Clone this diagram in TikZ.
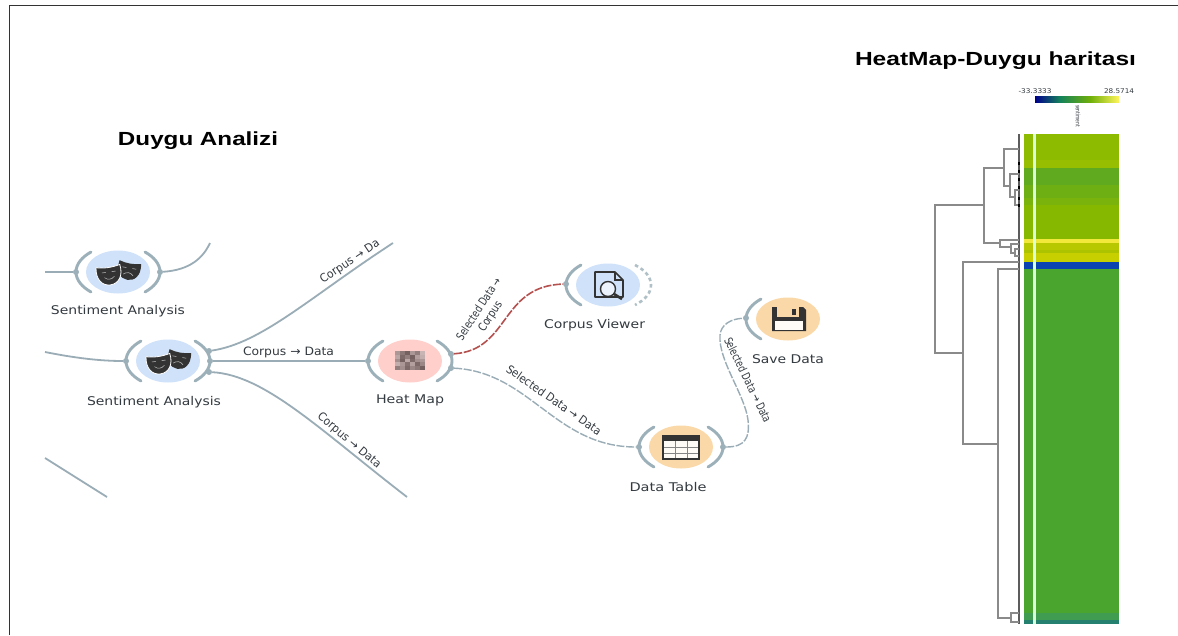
\documentclass[tikz,border=0pt]{standalone}
\usepackage{graphicx}
\usepackage{fontspec}
\setmainfont{DejaVu Sans}
\newfontfamily\titlefont{Liberation Sans}
\usetikzlibrary{shapes.geometric}
\definecolor{linec}{HTML}{9AADB6}
\definecolor{brk}{HTML}{9CB0B9}
\definecolor{txt}{HTML}{333A40}
\definecolor{redl}{HTML}{B4504E}
\definecolor{bluec}{HTML}{CFE2FA}
\definecolor{pinkc}{HTML}{FFCFCB}
\definecolor{orc}{HTML}{FBD8A8}
\definecolor{ico}{HTML}{333333}
\definecolor{den}{HTML}{8A8A8A}
\newcommand{\fitw}[2]{\resizebox{#1pt}{\height}{#2}}
\tikzset{
  x=1pt,y=-1pt,
  wcirc/.style={ellipse,minimum width=64pt,minimum height=43pt,inner sep=0pt,draw=none},
  wlabel/.style={text=txt,font=\fontsize{12}{14}\selectfont,inner sep=0pt},
  elabel/.style={text=txt,font=\fontsize{11.5}{13.5}\selectfont,inner sep=0pt,align=center},
  ttl/.style={text=black,font=\titlefont\bfseries\fontsize{19}{21}\selectfont,inner sep=0pt},
  port/.style={circle,fill=brk,minimum size=6pt,inner sep=0pt},
  wire/.style={draw=linec,line width=1.8pt},
  dwire/.style={draw=linec,line width=1.4pt,dash pattern=on 8pt off 1.6pt},
  rwire/.style={draw=redl,line width=1.6pt,dash pattern=on 8pt off 1.6pt},
  bracket/.style={draw=brk,line width=2.9pt,line cap=round},
  dend/.style={draw=den,line width=1.2pt},
  lbr/.pic={\draw[bracket] (-27,-20) .. controls (-36,-15) and (-42,-8) .. (-42,0) .. controls (-42,8) and (-36,15) .. (-27,20);},
  rbr/.pic={\draw[bracket] (27,-20) .. controls (36,-15) and (42,-8) .. (42,0) .. controls (42,8) and (36,15) .. (27,20);},
  masks/.pic={
    \begin{scope}[shift={(11,-2)},rotate=-10]
      \fill[ico] (-11,-8) .. controls (-4,-6) and (4,-6) .. (11,-8) .. controls (13,4) and (7,10) .. (0,10) .. controls (-7,10) and (-13,4) .. cycle;
      \draw[white!70!ico,line width=.5pt] (-5,5) .. controls (-2,2) and (2,2) .. (5,5);
      \draw[white!70!ico,line width=.5pt] (-7,-2) -- (-3,-2) (3,-2) -- (7,-2);
    \end{scope}
    \begin{scope}[shift={(-9,2)},rotate=8]
      \fill[ico,draw=white,line width=.8pt] (-12,-8) .. controls (-4,-6) and (4,-6) .. (12,-8) .. controls (14,4) and (8,11) .. (0,11) .. controls (-8,11) and (-14,4) .. cycle;
      \draw[white!70!ico,line width=.5pt] (-5,3) .. controls (-2,6) and (2,6) .. (5,3);
      \draw[white!70!ico,line width=.5pt] (-7,-2) -- (-3,-2) (3,-2) -- (7,-2);
    \end{scope}
  },
}
\begin{document}
\begin{tikzpicture}
\useasboundingbox (0,0) rectangle (1178,635);
\fill[white] (0,0) rectangle (1178,635);
% frame
\draw[draw=ico,line width=1pt] (9.5,635) -- (9.5,5.5) -- (1178,5.5);
% titles
\node[ttl] (t1) at (198,141) {\fitw{160}{Duygu Analizi}};
\node[ttl] (t2) at (995.5,61) {\fitw{281}{HeatMap-Duygu haritası}};

% widgets
\node[wcirc,fill=bluec] (s1) at (118,272) {};
\node[wcirc,fill=bluec] (s2) at (168,361) {};
\node[wcirc,fill=pinkc] (hm) at (410,361) {};
\node[wcirc,fill=bluec] (cv) at (608,285) {};
\node[wcirc,fill=orc] (dt) at (681,447) {};
\node[wcirc,fill=orc] (sd) at (788,319) {};

\pic at (118,272) {lbr}; \pic at (118,272) {rbr};
\pic at (168,361) {lbr}; \pic at (168,361) {rbr};
\pic at (410,361) {lbr}; \pic at (410,361) {rbr};
\pic at (608,285) {lbr};
\pic at (681,447) {lbr}; \pic at (681,447) {rbr};
\pic at (788,319) {lbr};
\draw[draw=brk!80!white,line width=2.6pt,dash pattern=on 3.5pt off 3pt] (635,265) .. controls (645,270) and (651,277) .. (651,285) .. controls (651,293) and (645,300) .. (635,305);

% ports
\node[port] (s1l) at (76,272) {};
\node[port] (s1r) at (160,272) {};
\node[port] (s2l) at (126,361) {};
\node[port] (s2a) at (209,351) {};
\node[port] (s2b) at (210,361) {};
\node[port] (s2c) at (209,372) {};
\node[port] (hml) at (368,361) {};
\node[port] (hma) at (451,354) {};
\node[port] (hmb) at (451,368) {};
\node[port] (cvl) at (566,284) {};
\node[port] (dtl) at (639,447) {};
\node[port] (dtr) at (723,447) {};
\node[port] (sdl) at (746,318) {};

% free ends
\coordinate (e1) at (45,272);
\coordinate (e2) at (210,243);
\coordinate (e3) at (45,352);
\coordinate (e4) at (393,243);
\coordinate (e5) at (407,497);
\coordinate (e6) at (45,458);
\coordinate (e7) at (107,497);

% connectors
\draw[wire] (e1) -- (s1l);
\draw[wire] (s1r) .. controls (190,270) and (203,258) .. (e2);
\draw[wire] (e3) .. controls (75,358) and (100,361) .. (s2l);
\draw[wire] (s2a) .. controls (262,343) and (310,297) .. (e4);
\draw[wire] (s2b) -- (hml);
\draw[wire] (s2c) .. controls (265,375) and (320,430) .. (e5);
\draw[wire] (e6) -- (e7);
\draw[rwire] (hma) .. controls (510,350) and (500,286) .. (cvl);
\draw[dwire] (hmb) .. controls (530,372) and (555,447) .. (dtl);
\draw[dwire] (dtr) .. controls (745,447) and (750,438) .. (748,420) .. controls (745,395) and (718,360) .. (720,335) .. controls (721,325) and (730,319) .. (sdl);

% widget labels
\node[wlabel] (ls1) at (118,311) {\fitw{134}{Sentiment Analysis}};
\node[wlabel] (ls2) at (154,402) {\fitw{134}{Sentiment Analysis}};
\node[wlabel] (lhm) at (410,400) {\fitw{68}{Heat Map}};
\node[wlabel] (lcv) at (594.5,325) {\fitw{101}{Corpus Viewer}};
\node[wlabel] (ldt) at (668,487) {\fitw{77}{Data Table}};
\node[wlabel] (lsd) at (788,359) {\fitw{72}{Save Data}};

% connector labels
\node[elabel] (c1) at (288.5,352) {\fitw{91}{Corpus → Data}};
\node[elabel,rotate=34] (c2) at (350,262) {\fitw{69}{Corpus → Da}};
\node[elabel,rotate=-40] (c3) at (349,441) {\fitw{79}{Corpus → Data}};
\node[elabel,rotate=57] (c4) at (485,313) {\fitw{72}{Selected Data →}\\\fitw{34}{Corpus}};
\node[elabel,rotate=-35] (c5) at (554,400) {\fitw{113}{Selected Data → Data}};
\node[elabel,rotate=-64] (c6) at (748,380) {\fitw{93}{Selected Data → Data}};

% masks
\pic at (118,272) {masks};
\pic at (168,361) {masks};

% heat map icon
\foreach \col/\row/\g in {
0/0/55,1/0/75,2/0/90,3/0/55,4/0/70,5/0/35,
0/1/45,1/1/85,2/1/70,3/1/90,4/1/50,5/1/40,
0/2/60,1/2/90,2/2/45,3/2/85,4/2/60,5/2/55,
0/3/40,1/3/55,2/3/80,3/3/50,4/3/85,5/3/65,
0/4/70,1/4/60,2/4/85,3/4/65,4/4/75,5/4/90}
  \fill[black!\g!white,opacity=.6] (395+5*\col,351+3.8*\row) rectangle +(5,3.8);

% corpus viewer icon
\begin{scope}[shift={(608,285)}]
  \draw[ico,line width=1.6pt,line join=round,fill=bluec] (-13,-13) -- (7,-13) -- (15,-5) -- (15,12) -- (-13,12) -- cycle;
  \draw[ico,line width=1.2pt] (7,-13) -- (7,-5) -- (15,-5);
  \draw[ico,line width=1.4pt,fill=bluec!40!white] (0,4) circle (7.5);
  \draw[ico,line width=2.6pt] (6,9) -- (14,14);
\end{scope}

% data table icon
\begin{scope}[shift={(681,447)}]
  \fill[white!90!orc] (-18,-6) rectangle (18,12);
  \fill[ico] (-18,-11) rectangle (18,-6);
  \draw[ico!60!white,line width=.7pt] (-18,0) -- (18,0) (-18,6) -- (18,6) (-6,-6) -- (-6,12) (6,-6) -- (6,12);
  \draw[ico,line width=1.1pt] (-18,-11) rectangle (18,12);
\end{scope}

% save data icon
\begin{scope}[shift={(788,319)}]
  \fill[ico] (-16,-12) -- (15,-12) -- (18,-9) -- (18,12) -- (-16,12) -- cycle;
  \fill[orc] (-11,-12) rectangle (11,-2);
  \fill[ico] (4,-10) rectangle (8,-4);
  \fill[white!92!orc] (-13,2) rectangle (15,11);
\end{scope}

% legend
\node[font=\fontsize{6.5}{7}\selectfont,text=txt,inner sep=0pt] (lg1) at (1035,91) {\fitw{33}{-33.3333}};
\node[font=\fontsize{6.5}{7}\selectfont,text=txt,inner sep=0pt] (lg2) at (1119,91) {\fitw{30}{28.5714}};
\node[font=\fontsize{6}{7}\selectfont,text=txt,inner sep=0pt,rotate=-90] (lg3) at (1078,116) {\fitw{22}{sentiment}};
\shade[left color={rgb,255:red,0;green,0;blue,140},right color={rgb,255:red,20;green,130;blue,90}] (1035,96) rectangle (1060,102);
\shade[left color={rgb,255:red,20;green,130;blue,90},right color={rgb,255:red,110;green,175;blue,10}] (1060,96) rectangle (1090,102);
\shade[left color={rgb,255:red,110;green,175;blue,10},right color={rgb,255:red,255;green,245;blue,90}] (1090,96) rectangle (1119,102);

% heat map bands
\foreach \ya/\yb/\c in {
134/160/8DBB00,160/168/97BE00,168/185/5FAA1E,185/198/6EAF14,198/205/7AB30C,205/239/86B800,
239/243/F2E83C,243/250/B8C800,250/253/ACC400,253/262/C8CF00,262/269/0B43B0,269/613/4AA52E,
613/620/3F9C50,620/624/268070}{
  \definecolor{bandc}{HTML}{\c}
  \fill[bandc] (1024,\ya) rectangle (1119,\yb);
}
\fill[white!85!green] (1033,134) rectangle (1036,624);

% dendrogram
\draw[draw=ico!80!white,line width=1.8pt] (1019,134) -- (1019,624);
\draw[dend] (984,205) -- (935,205) -- (935,353) -- (963,353);
\draw[dend] (1004,168) -- (984,168) -- (984,243) -- (1000,243);
\draw[dend] (1019,149) -- (1004,149) -- (1004,186) -- (1010,186);
\draw[dend] (1019,174) -- (1010,174) -- (1010,197) -- (1015,197);
\draw[dend] (1019,190) -- (1015,190) -- (1015,205) -- (1019,205);
\draw[dend] (1019,240) -- (1000,240) -- (1000,247) -- (1011,247);
\draw[dend] (1019,244) -- (1011,244) -- (1011,253) -- (1015,253);
\draw[dend] (1019,249) -- (1015,249) -- (1015,256) -- (1019,256);
\draw[dend] (1019,262) -- (963,262) -- (963,444) -- (998,444);
\draw[dend] (1019,269) -- (998,269) -- (998,618) -- (1011,618);
\draw[dend] (1019,613) -- (1011,613) -- (1011,622) -- (1019,622);
\foreach \yy in {162,170,178,186,197,204}
  \fill[black] (1017.5,\yy) rectangle (1020,\yy+3);
\end{tikzpicture}
\end{document}
